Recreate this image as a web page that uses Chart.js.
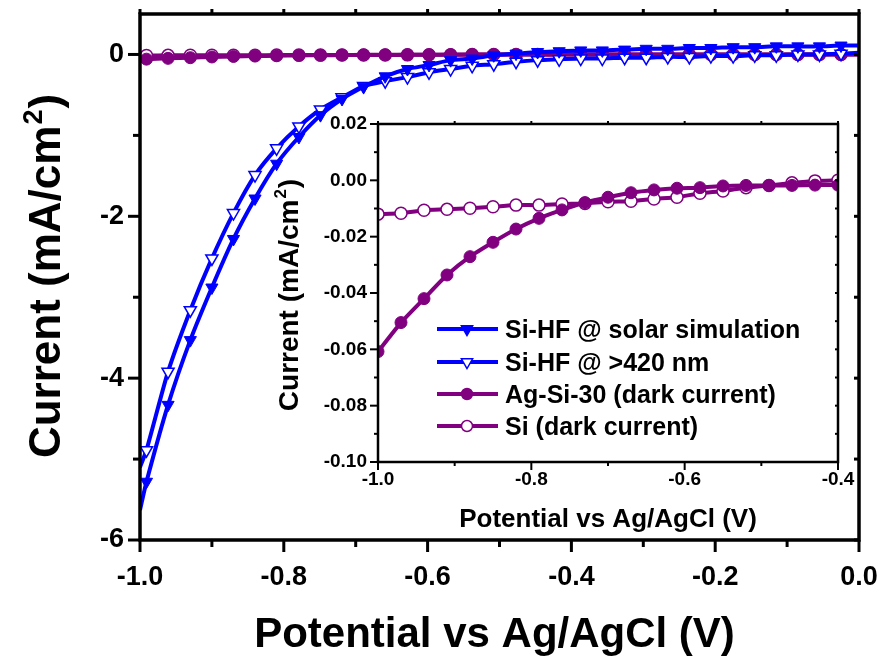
<!DOCTYPE html>
<html>
<head>
<meta charset="utf-8">
<script src="https://cdn.jsdelivr.net/npm/chart.js@4.4.1/dist/chart.umd.min.js"></script>
<style>
html, body { margin: 0; padding: 0; background: #fff; }
#quadro { position: relative; width: 886px; height: 659px; }
#graficoPrincipal { position: absolute; left: 0; top: 0; }
#graficoInset { position: absolute; left: 255px; top: 110px; }
</style>
</head>
<body>
<div id="quadro">
  <canvas id="graficoPrincipal" width="886" height="659" style="width:886px;height:659px"></canvas>
  <canvas id="graficoInset" width="610" height="440" style="width:610px;height:440px"></canvas>
</div>
<script>
// ---- dados do grafico principal ----
const potencialPrincipal = [-1.0, -0.991, -0.961, -0.930, -0.900, -0.870, -0.840, -0.810, -0.779, -0.749,
  -0.719, -0.689, -0.659, -0.628, -0.598, -0.568, -0.538, -0.508, -0.477, -0.447, -0.417, -0.387,
  -0.357, -0.326, -0.296, -0.266, -0.236, -0.206, -0.175, -0.145, -0.115, -0.085, -0.055, -0.025, 0.0];
const siHfSolar = [-5.63, -5.28, -4.33, -3.53, -2.88, -2.28, -1.78, -1.35, -1.02, -0.75,
  -0.55, -0.40, -0.27, -0.18, -0.13, -0.07, -0.05, -0.01, 0.01, 0.03, 0.04, 0.05,
  0.05, 0.06, 0.07, 0.07, 0.08, 0.08, 0.09, 0.09, 0.10, 0.10, 0.10, 0.11, 0.11];
const siHf420 = [-5.10, -4.89, -3.92, -3.16, -2.52, -1.96, -1.49, -1.16, -0.89, -0.68,
  -0.53, -0.39, -0.33, -0.28, -0.22, -0.18, -0.14, -0.12, -0.09, -0.07, -0.06, -0.05,
  -0.05, -0.04, -0.04, -0.03, -0.03, -0.02, -0.02, -0.01, -0.01, 0.00, 0.00, 0.01, 0.02];
const agSi30Principal = [-0.061, -0.058, -0.048, -0.040, -0.031, -0.025, -0.020, -0.016, -0.012, -0.010,
  -0.007, -0.005, -0.004, -0.003, -0.003, -0.002, -0.002, -0.002, -0.002, -0.002, -0.002, -0.001,
  -0.001, -0.001, -0.001, -0.001, -0.001, -0.001, -0.001, -0.001, -0.001, -0.001, -0.001, -0.001, -0.001];
const siEscuroPrincipal = [-0.012, -0.012, -0.011, -0.010, -0.010, -0.009, -0.009, -0.008, -0.008, -0.008,
  -0.007, -0.007, -0.006, -0.005, -0.004, -0.003, -0.002, -0.001, -0.001, 0.000, 0.000, 0.000,
  0.000, 0.000, 0.000, 0.000, 0.000, 0.000, 0.000, 0.000, 0.000, 0.000, 0.000, 0.000, 0.000];

// ---- dados do inset ----
const potencialInset = [-1.00, -0.97, -0.94, -0.91, -0.88, -0.85, -0.82, -0.79, -0.76, -0.73, -0.70,
  -0.67, -0.64, -0.61, -0.58, -0.55, -0.52, -0.49, -0.46, -0.43, -0.40];
const agSi30Inset = [-0.0608, -0.0505, -0.0420, -0.0336, -0.0271, -0.0220, -0.0173, -0.0135, -0.0105, -0.0079, -0.0060,
  -0.0044, -0.0034, -0.0028, -0.0026, -0.0020, -0.0018, -0.0018, -0.0018, -0.0017, -0.0017];
const siEscuroInset = [-0.0120, -0.0117, -0.0106, -0.0103, -0.0099, -0.0094, -0.0088, -0.0088, -0.0084, -0.0082, -0.0076,
  -0.0074, -0.0066, -0.0060, -0.0046, -0.0038, -0.0026, -0.0018, -0.0009, -0.0002, 0.0000];

// ---- ticks ----
const ticksXPrincipal = [-1.0, -0.8, -0.6, -0.4, -0.2, 0.0];
const ticksXPrincipalMenor = [-0.9, -0.7, -0.5, -0.3, -0.1];
const ticksYPrincipal = [-6, -4, -2, 0];
const ticksYPrincipalMenor = [-5, -3, -1];
const ticksXInset = [-1.0, -0.8, -0.6, -0.4];
const ticksXInsetMenor = [-0.9, -0.7, -0.5];
const ticksYInset = [0.02, 0.00, -0.02, -0.04, -0.06, -0.08, -0.10];
const ticksYInsetMenor = [0.01, -0.01, -0.03, -0.05, -0.07, -0.09];

// ---- textos ----
const tituloX = 'Potential vs Ag/AgCl (V)';
const tituloY = ['Current (mA/cm', '2', ')'];
const rotulosLegenda = ['Si-HF @ solar simulation', 'Si-HF @ >420 nm', 'Ag-Si-30 (dark current)', 'Si (dark current)'];

const AZUL = '#0000ff';
const ROXO = '#800080';
const FONTE = '"Liberation Sans", Arial, sans-serif';

Chart.defaults.font.family = FONTE;
Chart.defaults.font.weight = 'bold';
Chart.defaults.color = '#000';

function pontos(xs, ys) {
    return xs.map((v, i) => ({ x: v, y: ys[i] }));
}

// sem marcador no primeiro e no ultimo ponto da curva principal
function raioMeio(r) {
    return ctx => (ctx.dataIndex === 0 || ctx.dataIndex === potencialPrincipal.length - 1) ? 0 : r;
}

function pluginMoldura(cfg) {
    return {
        id: 'moldura',
        afterDraw(chart) {
            const { ctx, chartArea: a } = chart;
            const x = chart.scales.x, y = chart.scales.y;
            const marca = (x1, y1, x2, y2) => {
                ctx.beginPath(); ctx.moveTo(x1, y1); ctx.lineTo(x2, y2); ctx.stroke();
            };
            ctx.save();
            ctx.strokeStyle = '#000';
            ctx.lineWidth = cfg.larguraTick;
            cfg.xMaior.forEach(v => {
                const p = x.getPixelForValue(v);
                marca(p, a.bottom, p, a.bottom + cfg.maior);
                marca(p, a.top, p, a.top + cfg.interno);
            });
            cfg.xMenor.forEach(v => {
                const p = x.getPixelForValue(v);
                marca(p, a.bottom, p, a.bottom + cfg.menor);
                marca(p, a.top, p, a.top + cfg.interno);
            });
            cfg.yMaior.forEach(v => {
                const p = y.getPixelForValue(v);
                marca(a.left, p, a.left - cfg.maior, p);
                marca(a.right, p, a.right + cfg.interno, p);
            });
            cfg.yMenor.forEach(v => {
                const p = y.getPixelForValue(v);
                marca(a.left, p, a.left - cfg.menor, p);
                marca(a.right, p, a.right + cfg.interno, p);
            });
            ctx.lineWidth = cfg.largura;
            ctx.strokeRect(a.left, a.top, a.right - a.left, a.bottom - a.top);
            ctx.restore();
        }
    };
}

function pluginTitulos(cfg) {
    return {
        id: 'titulos',
        afterDraw(chart) {
            const { ctx, chartArea: a } = chart;
            ctx.save();
            ctx.fillStyle = '#000';
            ctx.font = `bold ${cfg.tamX}px ${FONTE}`;
            ctx.textAlign = 'center';
            ctx.textBaseline = 'alphabetic';
            ctx.fillText(tituloX, (a.left + a.right) / 2 + cfg.dx, cfg.baseX);

            const f1 = `bold ${cfg.tamY}px ${FONTE}`;
            const f2 = `bold ${Math.round(cfg.tamY * 0.62)}px ${FONTE}`;
            ctx.font = f1;
            const w1 = ctx.measureText(tituloY[0]).width;
            const w3 = ctx.measureText(tituloY[2]).width;
            ctx.font = f2;
            const w2 = ctx.measureText(tituloY[1]).width;
            ctx.translate(cfg.baseY, cfg.centroY);
            ctx.rotate(-Math.PI / 2);
            ctx.textAlign = 'left';
            const x0 = -(w1 + w2 + w3) / 2;
            ctx.font = f1;
            ctx.fillText(tituloY[0], x0, 0);
            ctx.font = f2;
            ctx.fillText(tituloY[1], x0 + w1 + 1, -cfg.tamY * 0.42);
            ctx.font = f1;
            ctx.fillText(tituloY[2], x0 + w1 + w2 + 2, 0);
            ctx.restore();
        }
    };
}

const estilosLegenda = [
    { cor: AZUL, pointStyle: 'triangle', rotation: 180, fundo: AZUL, raio: 6.5 },
    { cor: AZUL, pointStyle: 'triangle', rotation: 180, fundo: '#fff', raio: 6.5 },
    { cor: ROXO, pointStyle: 'circle', rotation: 0, fundo: ROXO, raio: 5.5 },
    { cor: ROXO, pointStyle: 'circle', rotation: 0, fundo: '#fff', raio: 5.5 }
];

const pluginLegenda = {
    id: 'legendaInset',
    afterDraw(chart) {
        const ctx = chart.ctx;
        const linhas = [219, 252, 284, 316];
        ctx.save();
        rotulosLegenda.forEach((texto, i) => {
            const e = estilosLegenda[i];
            const yy = linhas[i];
            ctx.strokeStyle = e.cor;
            ctx.lineWidth = 4;
            ctx.beginPath(); ctx.moveTo(182, yy); ctx.lineTo(243, yy); ctx.stroke();
            ctx.fillStyle = e.fundo;
            ctx.lineWidth = 1.5;
            Chart.helpers.drawPoint(ctx, { pointStyle: e.pointStyle, rotation: e.rotation, radius: e.raio, borderWidth: 1.5 }, 212, yy);
            ctx.fillStyle = '#000';
            ctx.font = `bold 25px ${FONTE}`;
            ctx.textAlign = 'left';
            ctx.textBaseline = 'alphabetic';
            ctx.fillText(texto, 250, yy + 9);
        });
        ctx.restore();
    }
};

// tamanho fixo da caixa do eixo, sem folga extra para os rotulos
function tamanhoFixo(horizontal, valor) {
    return s => {
        if (horizontal) s.height = valor; else s.width = valor;
        s.paddingTop = 0; s.paddingBottom = 0; s.paddingLeft = 0; s.paddingRight = 0;
    };
}

function eixo(min, max, ticks, tam, padding, formato, ajuste) {
    return {
        type: 'linear', min: min, max: max,
        afterBuildTicks: s => { s.ticks = ticks.map(v => ({ value: v })); },
        afterFit: ajuste,
        grid: { display: true, drawOnChartArea: false, drawTicks: false },
        border: { display: false },
        ticks: {
            autoSkip: false, maxRotation: 0, padding: padding, color: '#000',
            font: { size: tam, weight: 'bold', lineHeight: 1 },
            callback: formato
        }
    };
}

new Chart(document.getElementById('graficoPrincipal'), {
    type: 'line',
    data: {
        datasets: [{
            label: rotulosLegenda[0],
            data: pontos(potencialPrincipal, siHfSolar),
            borderColor: AZUL, borderWidth: 4,
            pointStyle: 'triangle', rotation: 180,
            pointRadius: raioMeio(7), pointBackgroundColor: AZUL, pointBorderColor: AZUL, pointBorderWidth: 1,
            tension: 0.2
        }, {
            label: rotulosLegenda[1],
            data: pontos(potencialPrincipal, siHf420),
            borderColor: AZUL, borderWidth: 4,
            pointStyle: 'triangle', rotation: 180,
            pointRadius: raioMeio(7), pointBackgroundColor: '#fff', pointBorderColor: AZUL, pointBorderWidth: 1.5,
            tension: 0.2
        }, {
            label: rotulosLegenda[2],
            data: pontos(potencialPrincipal, agSi30Principal),
            borderColor: ROXO, borderWidth: 4,
            pointStyle: 'circle',
            pointRadius: raioMeio(6), pointBackgroundColor: ROXO, pointBorderColor: ROXO, pointBorderWidth: 1,
            tension: 0.2
        }, {
            label: rotulosLegenda[3],
            data: pontos(potencialPrincipal, siEscuroPrincipal),
            borderColor: ROXO, borderWidth: 4,
            pointStyle: 'circle',
            pointRadius: raioMeio(6), pointBackgroundColor: '#fff', pointBorderColor: ROXO, pointBorderWidth: 1.5,
            tension: 0.2
        }]
    },
    options: {
        responsive: false,
        animation: false,
        layout: { padding: { top: 14, right: 27, left: 0, bottom: 0 } },
        scales: {
            x: eixo(-1, 0, ticksXPrincipal, 27, 24, v => v.toFixed(1), tamanhoFixo(true, 119)),
            y: eixo(-6, 0.5, ticksYPrincipal, 27, 16, v => String(v), tamanhoFixo(false, 140))
        },
        plugins: { legend: { display: false }, tooltip: { enabled: false } }
    },
    plugins: [
        pluginMoldura({ xMaior: ticksXPrincipal, xMenor: ticksXPrincipalMenor, yMaior: ticksYPrincipal, yMenor: ticksYPrincipalMenor,
            largura: 3.5, larguraTick: 3, maior: 12, menor: 7, interno: -5 }),
        pluginTitulos({ tamX: 42, dx: -5, baseX: 647, tamY: 44, baseY: 60, centroY: 277 })
    ]
});

new Chart(document.getElementById('graficoInset'), {
    type: 'line',
    data: {
        datasets: [{
            label: rotulosLegenda[2],
            data: pontos(potencialInset, agSi30Inset),
            borderColor: ROXO, borderWidth: 4,
            pointStyle: 'circle',
            pointRadius: 6, pointBackgroundColor: ROXO, pointBorderColor: ROXO, pointBorderWidth: 1,
            tension: 0.2
        }, {
            label: rotulosLegenda[3],
            data: pontos(potencialInset, siEscuroInset),
            borderColor: ROXO, borderWidth: 4,
            pointStyle: 'circle',
            pointRadius: 6, pointBackgroundColor: '#fff', pointBorderColor: ROXO, pointBorderWidth: 1.5,
            tension: 0.2
        }]
    },
    options: {
        responsive: false,
        animation: false,
        layout: { padding: { top: 14, right: 27, left: 0, bottom: 0 } },
        scales: {
            x: eixo(-1, -0.4, ticksXInset, 19, 8, v => v.toFixed(1), tamanhoFixo(true, 88)),
            y: eixo(-0.1, 0.02, ticksYInset, 19, 11, v => v.toFixed(2), tamanhoFixo(false, 123))
        },
        plugins: { legend: { display: false }, tooltip: { enabled: false } }
    },
    plugins: [
        pluginMoldura({ xMaior: ticksXInset, xMenor: ticksXInsetMenor, yMaior: ticksYInset, yMenor: ticksYInsetMenor,
            largura: 2.5, larguraTick: 2, maior: 8, menor: 4, interno: -3 }),
        pluginTitulos({ tamX: 26, dx: 0, baseX: 417, tamY: 28, baseY: 43, centroY: 186 }),
        pluginLegenda
    ]
});
</script>
</body>
</html>
